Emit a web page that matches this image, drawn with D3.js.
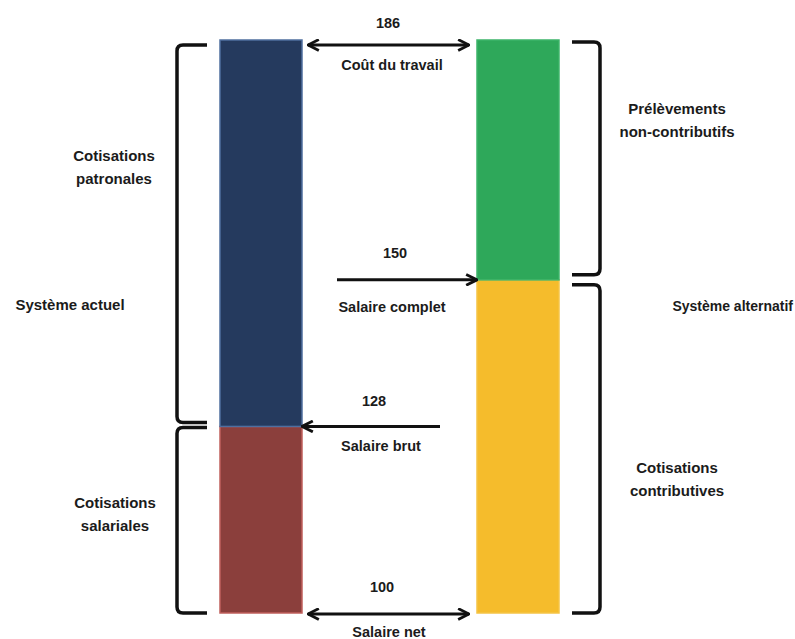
<!DOCTYPE html>
<html>
<head>
<meta charset="utf-8">
<script src="https://cdn.jsdelivr.net/npm/d3@7"></script>
<style>
  body { margin: 0; background: #fff; }
  text { font-family: "Liberation Sans", Arial, sans-serif; font-weight: bold; fill: #1b1b1b; }
</style>
</head>
<body>
<main></main>
<script>
const WIDTH = 795;
const HEIGHT = 639;

// systems (the two bars)
const systems = ["Système actuel", "Système alternatif"];

// stacked segments: [system, name, from, to]
const segNames = ["Cotisations salariales", "Cotisations patronales", "Cotisations contributives", "Prélèvements non-contributifs"];
const segSystem = [0, 0, 1, 1];
const segFrom = [100, 128, 100, 150];
const segTo = [128, 186, 150, 186];
const segColors = ["#8b3f3c", "#253a5e", "#f5bc2c", "#2ea85a"];
const segStroke = ["#c0605c", "#4f6f9f", "#f5c445", "#3cb469"];

// levels marked by arrows
const levelValues = [186, 150, 128, 100];
const levelLabels = ["Coût du travail", "Salaire complet", "Salaire brut", "Salaire net"];
const levelKind = ["both", "right", "left", "both"];

const y = d3.scaleLinear().domain([100, 186]).range([613, 40]);
const x = d3.scalePoint().domain(systems).range([261, 518]);
const BAR_W = 82;

const svg = d3.select("main").append("svg")
    .attr("width", WIDTH)
    .attr("height", HEIGHT);

const defs = svg.append("defs");
defs.append("marker")
    .attr("id", "head")
    .attr("viewBox", "0 0 12 12")
    .attr("refX", 11).attr("refY", 6)
    .attr("markerWidth", 13).attr("markerHeight", 13)
    .attr("markerUnits", "userSpaceOnUse")
    .attr("orient", "auto-start-reverse")
    .append("path")
    .attr("d", "M1,1 L11,6 L1,11")
    .attr("fill", "none")
    .attr("stroke", "#111")
    .attr("stroke-width", 2.6)
    .attr("stroke-linejoin", "miter");

// bars
var segIdx = d3.range(segNames.length);
svg.selectAll("rect.seg").data(segIdx).enter().append("rect")
    .attr("class", "seg")
    .attr("x", i => x(systems[segSystem[i]]) - BAR_W / 2)
    .attr("y", i => y(segTo[i]))
    .attr("width", BAR_W)
    .attr("height", i => y(segFrom[i]) - y(segTo[i]))
    .style("fill", i => segColors[i])
    .style("stroke", i => segStroke[i])
    .style("stroke-width", 1.5);

// arrows
var leftEdge = x(systems[0]) + BAR_W / 2;
var rightEdge = x(systems[1]) - BAR_W / 2;
var arrowLayout = [
    {x1: leftEdge + 6, x2: rightEdge - 8, dy: 5, nx: 388, ndy: -22, lx: 392, ldy: 20},
    {x1: 337, x2: rightEdge, dy: 0, nx: 395, ndy: -27, lx: 392, ldy: 27},
    {x1: 440, x2: leftEdge, dy: 0, nx: 374, ndy: -25, lx: 381, ldy: 20},
    {x1: leftEdge + 6, x2: rightEdge - 8, dy: 1, nx: 382, ndy: -27, lx: 389, ldy: 18}
];

levelValues.forEach(function (v, i) {
    var a = arrowLayout[i];
    var yy = y(v) + a.dy;
    var line = svg.append("line")
        .attr("x1", a.x1).attr("x2", a.x2)
        .attr("y1", yy).attr("y2", yy)
        .style("stroke", "#111")
        .style("stroke-width", 3)
        .attr("marker-end", "url(#head)");
    if (levelKind[i] == "both") line.attr("marker-start", "url(#head)");

    svg.append("text")
        .attr("x", a.nx).attr("y", yy + a.ndy)
        .attr("text-anchor", "middle")
        .attr("dominant-baseline", "central")
        .style("font-size", "14.5px")
        .text(v);
    svg.append("text")
        .attr("x", a.lx).attr("y", yy + a.ldy)
        .attr("text-anchor", "middle")
        .attr("dominant-baseline", "central")
        .style("font-size", "14.5px")
        .text(levelLabels[i]);
});

// braces like "[" and "]"
function bracket (xv, xe, y1, y2) {
    var r = 6, s = xe > xv ? 1 : -1;
    return "M" + xe + "," + y1 +
        " L" + (xv + s * r) + "," + y1 +
        " Q" + xv + "," + y1 + " " + xv + "," + (y1 + r) +
        " L" + xv + "," + (y2 - r) +
        " Q" + xv + "," + y2 + " " + (xv + s * r) + "," + y2 +
        " L" + xe + "," + y2;
}
var braces = [
    [177, 207, y(186) + 5, y(128) - 4],
    [177, 207, y(128) + 1, y(100)],
    [600, 572, y(186) + 2, y(150) - 5],
    [600, 572, y(150) + 5, y(100)]
];
braces.forEach(function (b) {
    svg.append("path")
        .attr("d", bracket(b[0], b[1], b[2], b[3]))
        .style("fill", "none")
        .style("stroke", "#111")
        .style("stroke-width", 3.5);
});

// side labels
var sideLabels = [
    {lines: ["Cotisations", "patronales"], x: 114, y: 155, size: 15, anchor: "middle"},
    {lines: [systems[0]], x: 70, y: 304, size: 15, anchor: "middle"},
    {lines: ["Cotisations", "salariales"], x: 115, y: 502, size: 15, anchor: "middle"},
    {lines: ["Prélèvements", "non-contributifs"], x: 677, y: 108, size: 15, anchor: "middle"},
    {lines: [systems[1]], x: 793, y: 306, size: 14, anchor: "end"},
    {lines: ["Cotisations", "contributives"], x: 677, y: 467, size: 15, anchor: "middle"}
];
sideLabels.forEach(function (s) {
    s.lines.forEach(function (t, k) {
        svg.append("text")
            .attr("x", s.x).attr("y", s.y + k * 23)
            .attr("text-anchor", s.anchor)
            .attr("dominant-baseline", "central")
            .style("font-size", s.size + "px")
            .text(t);
    });
});
</script>
</body>
</html>
